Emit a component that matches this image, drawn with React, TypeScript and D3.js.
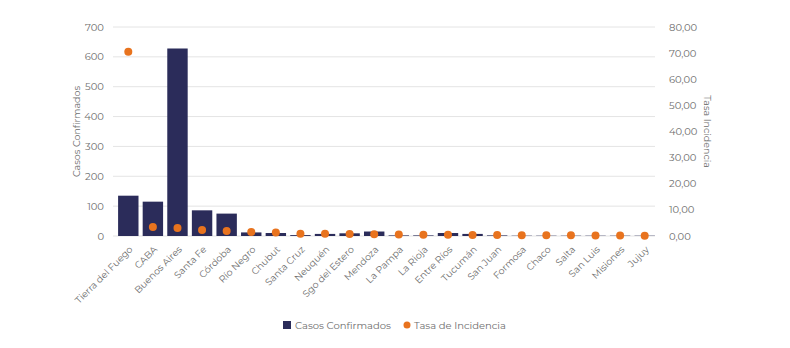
import * as d3 from 'd3'

const provinces = [
  'Tierra del Fuego', 'CABA', 'Buenos Aires', 'Santa Fe', 'Córdoba', 'Río Negro', 'Chubut',
  'Santa Cruz', 'Neuquén', 'Sgo del Estero', 'Mendoza', 'La Pampa', 'La Rioja', 'Entre Ríos',
  'Tucumán', 'San Juan', 'Formosa', 'Chaco', 'Salta', 'San Luis', 'Misiones', 'Jujuy',
]
const casos = [135, 115, 628, 86, 75, 12, 10, 3, 7, 9, 15, 2, 2, 10, 7, 2, 1, 1, 1, 1, 1, 1]
const tasa = [70.5, 3.4, 3.1, 2.3, 1.9, 1.5, 1.3, 0.9, 0.9, 0.8, 0.7, 0.6, 0.5, 0.5, 0.4, 0.4, 0.3, 0.3, 0.3, 0.2, 0.2, 0.1]
const leftTicks = [0, 100, 200, 300, 400, 500, 600, 700]
const rightTicks = [0, 10, 20, 30, 40, 50, 60, 70, 80]

const W = 790
const H = 348
const M = { top: 27, left: 116, right: 133, bottom: 112 }
const FONT = 'Montserrat, "Open Sans", "DejaVu Sans", sans-serif'
const BAR = '#2b2c5a'
const DOT = '#e8731e'
const TXT = '#6e6e6e'

export default function App() {
  const innerW = W - M.left - M.right
  const innerH = H - M.top - M.bottom
  const x = d3.scaleBand().domain(provinces).range([0, innerW]).paddingInner(0.17).paddingOuter(0.085)
  const yL = d3.scaleLinear().domain([0, 700]).range([innerH, 0])
  const yR = d3.scaleLinear().domain([0, 80]).range([innerH, 0])
  const fmt = (v: number) => v.toFixed(2).replace('.', ',')

  return (
    <svg width={W} height={H} style={{ position: 'absolute', left: 0, top: 0, background: '#fff', fontFamily: FONT }}>
      <g transform={`translate(${M.left},${M.top})`}>
        {/* grid */}
        {leftTicks.map(t => (
          <line key={t} x1={-3} x2={innerW - 2} y1={yL(t)} y2={yL(t)} stroke="#e4e4e4" strokeWidth={1} />
        ))}
        {/* left axis labels */}
        {leftTicks.map(t => (
          <text key={t} x={-12} y={yL(t)} dy="0.35em" textAnchor="end" fontSize={10} fill={TXT}>{t}</text>
        ))}
        {/* right axis labels */}
        {rightTicks.map(t => (
          <text key={t} x={innerW + 12} y={yR(t)} dy="0.35em" textAnchor="start" fontSize={10} fill={TXT}>{fmt(t)}</text>
        ))}
        <text transform={`translate(${-36},${innerH / 2}) rotate(-90)`} textAnchor="middle" fontSize={9.5} fill={TXT}>Casos Confirmados</text>
        <text transform={`translate(${innerW + 47},${innerH / 2}) rotate(90)`} textAnchor="middle" fontSize={9.5} fill={TXT}>Tasa Incidencia</text>

        {/* bars */}
        {provinces.map((p, i) => (
          <rect key={p} x={x(p)} y={yL(casos[i])} width={x.bandwidth()} height={innerH - yL(casos[i])} fill={BAR} />
        ))}
        {/* dots */}
        {provinces.map((p, i) => (
          <circle key={p} cx={(x(p) ?? 0) + x.bandwidth() / 2} cy={yR(tasa[i])} r={4} fill={DOT} />
        ))}

        {/* x labels */}
        {provinces.map(p => {
          const cx = (x(p) ?? 0) + x.bandwidth() / 2
          return (
            <text key={p} transform={`translate(${cx + 5},${innerH + 14}) rotate(-45)`} textAnchor="end" fontSize={9.5} fill={TXT}>{p}</text>
          )
        })}
      </g>

      {/* legend */}
      <g transform="translate(283,325)">
        <rect x={0} y={-4} width={8} height={8} fill={BAR} />
        <text x={12} y={0} dy="0.35em" fontSize={10} fill={TXT}>Casos Confirmados</text>
        <circle cx={124} cy={0} r={3.5} fill={DOT} />
        <text x={131} y={0} dy="0.35em" fontSize={10} fill={TXT}>Tasa de Incidencia</text>
      </g>
    </svg>
  )
}
